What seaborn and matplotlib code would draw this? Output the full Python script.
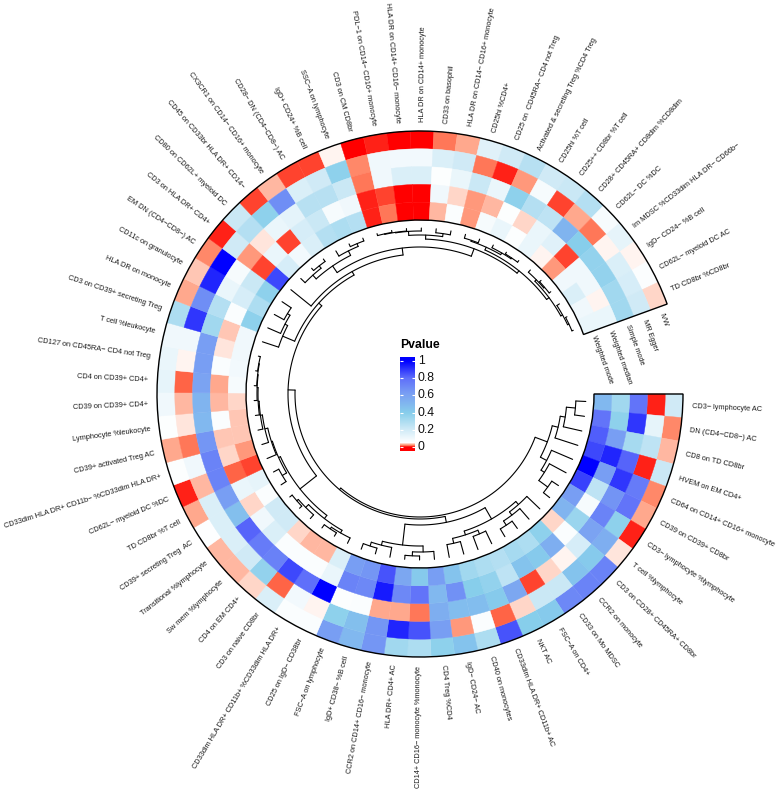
import numpy as np
import matplotlib
matplotlib.use("Agg")
import matplotlib.pyplot as plt
import seaborn as sns
from matplotlib.colors import LinearSegmentedColormap

sns.set_theme(style="white")
plt.rcParams['font.family'] = ['Liberation Sans', 'DejaVu Sans']

# Column labels, clockwise from the right
traits = [
    "CD3− lymphocyte AC", "DN (CD4−CD8−) AC", "CD8 on TD CD8br", "HVEM on EM CD4+",
    "CD64 on CD14+ CD16+ monocyte", "CD39 on CD39+ CD8br", "CD3− lymphocyte %lymphocyte",
    "T cell %lymphocyte", "CD3 on CD28+ CD45RA+ CD8br", "CCR2 on monocyte", "CD33 on Mo MDSC",
    "FSC−A on CD4+", "NKT AC", "CD33dim HLA DR+ CD11b+ AC", "CD40 on monocytes", "IgD− CD24− AC",
    "CD4 Treg %CD4", "CD14+ CD16− monocyte %monocyte", "HLA DR+ CD4+ AC",
    "CCR2 on CD14+ CD16− monocyte", "IgD+ CD38− %B cell", "FSC−A on lymphocyte",
    "CD25 on IgD− CD38br", "CD33dim HLA DR+ CD11b+ %CD33dim HLA DR+", "CD3 on naive CD8br",
    "CD4 on EM CD4+", "Sw mem %lymphocyte", "Transitional %lymphocyte", "CD39+ secreting Treg  AC",
    "TD CD8br %T cell", "CD62L− myeloid DC %DC", "CD33dim HLA DR+ CD11b− %CD33dim HLA DR+",
    "CD39+ activated Treg AC", "Lymphocyte %leukocyte", "CD39 on CD39+ CD4+", "CD4 on CD39+ CD4+",
    "CD127 on CD45RA− CD4 not Treg", "T cell %leukocyte", "CD3 on CD39+ secreting Treg",
    "HLA DR on monocyte", "CD11c on granulocyte", "EM DN (CD4−CD8−) AC", "CD3 on HLA DR+ CD4+",
    "CD80 on CD62L+ myeloid DC", "CD45 on CD33br HLA DR+ CD14−", "CX3CR1 on CD14− CD16+ monocyte",
    "CD28− DN (CD4−CD8−) AC", "IgD+ CD24+ %B cell", "SSC−A on lymphocyte", "CD3 on CM CD8br",
    "PDL−1 on CD14− CD16+ monocyte", "HLA DR on CD14+ CD16− monocyte", "HLA DR on CD14+ monocyte",
    "CD33 on basophil", "HLA DR on CD14− CD16+ monocyte", "CD25hi %CD4+",
    "CD25 on  CD45RA− CD4 not Treg", "Activated & secreting Treg %CD4 Treg", "CD25hi %T cell",
    "CD25++ CD8br %T cell", "CD28+ CD45RA+ CD8dim %CD8dim", "CD62L− DC %DC",
    "Im MDSC %CD33dim HLA DR− CD66b−", "IgD− CD24− %B cell", "CD62L− myeloid DC AC",
    "TD CD8br %CD8br",
]

# P values per method, same order as traits
ivw = [.2, .02, .033, .22, .02, .03, .006, .045, .72, .72, .7, .42, .4, .85, .3, .45, .38, .3, .33, .65, .5, .62,
       .07, .07, .17, .04, .035, .035, .055, .03, .006, .06, .028, .06, .1, .13, .12, .1, .3, .03, .036, .02, .007, .22,
       .009, .033, .01, .01, .05, .003, .007, .002, .001, .018, .03, .15, .2, .27, .2, .22, .28, .08, .13, .05, .065, .04]
mr_egger = [.006, .13, .25, .005, .75, .78, .38, .55, .42, .45, .22, .22, .04, .012, .07, .027, .62, .85, .93, .65, .47, .38,
            .05, .09, .012, .37, .2, .17, .17, .17, .035, .1, .018, .045, .032, .012, .05, .1, .9, .68, .93, 1.0, .2, .28,
            .38, .68, .17, .2, .38, .022, .1, .09, .09, .17, .2, .017, .006, .027, .08, .011, .028, .016, .05, .17, .18, .2]
simple_mode = [.78, .9, .32, .82, .9, .66, .72, .6, .18, .05, .04, .01, .58, .42, .48, .48, .55, .018, .03, .03, .07, .06,
               1.0, .8, .87, .73, .75, .82, .47, .62, .72, .72, .65, .5, .52, .6, .62, .62, .33, .28, .12, .08, .026, .045,
               .12, .14, .27, .27, .22, .018, .1, .17, .17, .06, .12, .22, .12, .38, .28, .25, .52, .4, .37, .37, .33, .33]
weighted_median = [.33, .38, .62, .93, .62, .25, .08, .35, .07, .55, .42, .45, .25, .37, .4, .67, .5, .78, .7, .95, .7, .72,
                   .12, .07, .07, .07, .17, .1, .04, .12, .012, .04, .038, .07, .032, .028, .07, .045, .038, .07, .18, .22, .01, .12,
                   .008, .18, .22, .08, .1, .006, .01, .001, 0, .1, .04, .025, .035, .06, .04, .12, .15, .009, .1, .1, .05, .12]
weighted_mode = [.5, .78, .83, .87, 1.0, .88, .62, .52, .04, .38, .3, .32, .28, .3, .33, .45, .62, .42, .58, .85, .65, .62,
                 .17, .035, .035, .04, .2, .2, .07, .13, .008, .025, .036, .038, .04, .08, .09, .1, .1, .38, .3, .38, .87, .18,
                 .09, .17, .28, .3, .28, .006, .017, .002, .002, .035, .07, .024, .08, .12, .06, .12, .05, .026, .1, .17, .1, .12]

methods = ["IVW", "MR Egger", "Simple mode", "Weighted median", "Weighted mode"]
method_values = [ivw, mr_egger, simple_mode, weighted_median, weighted_mode]

# Clustering tree: (height, left, right), leaves are 1-based trait numbers
left_tree = (30, (24, (19, (10, 1, 2), 3), 4),
             (23, 5, (19, 6, (8, 7, 8))))
mid_tree = (35, (22, (18, 9, (14, 10, (9, 11, 12))),
                 (18, (14, 13, 14), (13, 15, 16))),
            (14, (8, 17, (4, 18, 19)), (10, 20, (6, 21, 22))))
low_tree = (13, (9, (6, 23, (4, 24, 25)), (5, 26, (3, 27, 28))),
            (11, (6, 29, 30),
             (10, 31, (7, 32, (5, 33, (4, 34, (3, 35, (2.5, 36, (2, 37, 38)))))))))
top_tree = (30, (17, 39, (14, 40, (11, 41, 42))),
            (26, 43, (19, (11, (6, 44, (3, 45, 46)), (6, 47, (3, 48, 49))),
                      (11, (7, (3, (2.5, (2, 50, 51), 52), 53), (4, 54, 55)),
                       (8, (5, (4, 56, 57), (3, 58, (2, 59, 60))),
                        (5, (3, 61, (2, 62, 63)), (3, 64, (1.5, 65, 66))))))))
tree = (43, left_tree, (41, mid_tree, (34, low_tree, top_tree)))

# Colour scale
stops = [0, .0125, .025, .0375, .05, .225, .4, .6, .8, 1]
colours = ["#ff0000", "#ff6a4a", "#ff9e81", "#ffcfbf", "#ffffff", "#c8e7f5", "#87ceeb", "#7ba3f2", "#5f6ffa", "#0000ff"]
cmap = LinearSegmentedColormap.from_list("pvalue", list(zip(stops, colours)))

fig = plt.figure(figsize=(7.77, 7.93), dpi=100, facecolor="white")

# polar axes in pixel-like radius units
size = 270
ax = fig.add_axes([(420 - size) / 777, (793 - 394 - size) / 793, 2 * size / 777, 2 * size / 793], projection="polar")
ax.set_theta_zero_location("E")
ax.set_theta_direction(-1)
ax.set_ylim(0, size)
ax.set_axis_off()

inner = 174
track = 17.8
n = len(traits)
span = np.deg2rad(340)
step = span / n
angles = (np.arange(n) + .5) * step

# Heatmap rings, outermost first
for i, values in enumerate(method_values):
    bottom = inner + (4 - i) * track
    cols = cmap(np.array(values))
    ax.bar(angles, track, width=step, bottom=bottom, color=cols, edgecolor=cols, linewidth=.3, align="center")

ax.bar(span / 2, 5 * track, width=span, bottom=inner, fill=False, edgecolor="black", linewidth=1.0, clip_on=False)

# Trait labels
for a, label in zip(angles, traits):
    deg = np.rad2deg(a)
    if np.cos(a) >= 0:
        rot, ha = -deg, "left"
    else:
        rot, ha = 180 - deg, "right"
    ax.text(a, 272, label, rotation=rot, rotation_mode="anchor", ha=ha, va="center", fontsize=5.35, color="#1a1a1a")

# Method labels in the gap
for i, label in enumerate(methods):
    r = inner + (4.5 - i) * track
    ax.text(span + np.deg2rad(1.6), r, label, rotation=-70, rotation_mode="anchor", ha="left", va="center",
            fontsize=5.35, color="#1a1a1a")

# Dendrogram
tip = 166


def draw(node):
    if not isinstance(node, tuple):
        return angles[node - 1], tip
    height, a, b = node
    r = tip - height
    ta, ra = draw(a)
    tb, rb = draw(b)
    ax.plot([ta, ta], [r, ra], color="black", lw=.8, solid_capstyle="round")
    ax.plot([tb, tb], [r, rb], color="black", lw=.8, solid_capstyle="round")
    ax.plot(np.linspace(ta, tb, 60), np.full(60, r), color="black", lw=.8)
    return (ta + tb) / 2, r


draw(tree)

# Legend
ext = .043
rows = 186
gradient = np.linspace(1 + ext, -ext, rows).reshape(-1, 1)
leg = fig.add_axes([400 / 777, (793 - 450.5) / 793, 15 / 777, 93 / 793])
sns.heatmap(gradient, ax=leg, cmap=cmap, vmin=0, vmax=1, cbar=False, xticklabels=False, yticklabels=False)
for v in [0, .2, .4, .6, .8, 1]:
    row = (1 + ext - v) / (1 + 2 * ext) * rows
    leg.hlines(row, 0, .2, color="white", lw=.8)
    leg.hlines(row, .8, 1, color="white", lw=.8)
    leg.text(1.2, row, f"{v:g}", ha="left", va="center", fontsize=8.8, color="#111111", clip_on=False)
leg.text(0, -rows * .075, "Pvalue", ha="left", va="bottom", fontsize=8.8, fontweight="bold", color="black", clip_on=False)

fig.savefig("out.png", dpi=100, facecolor="white")
